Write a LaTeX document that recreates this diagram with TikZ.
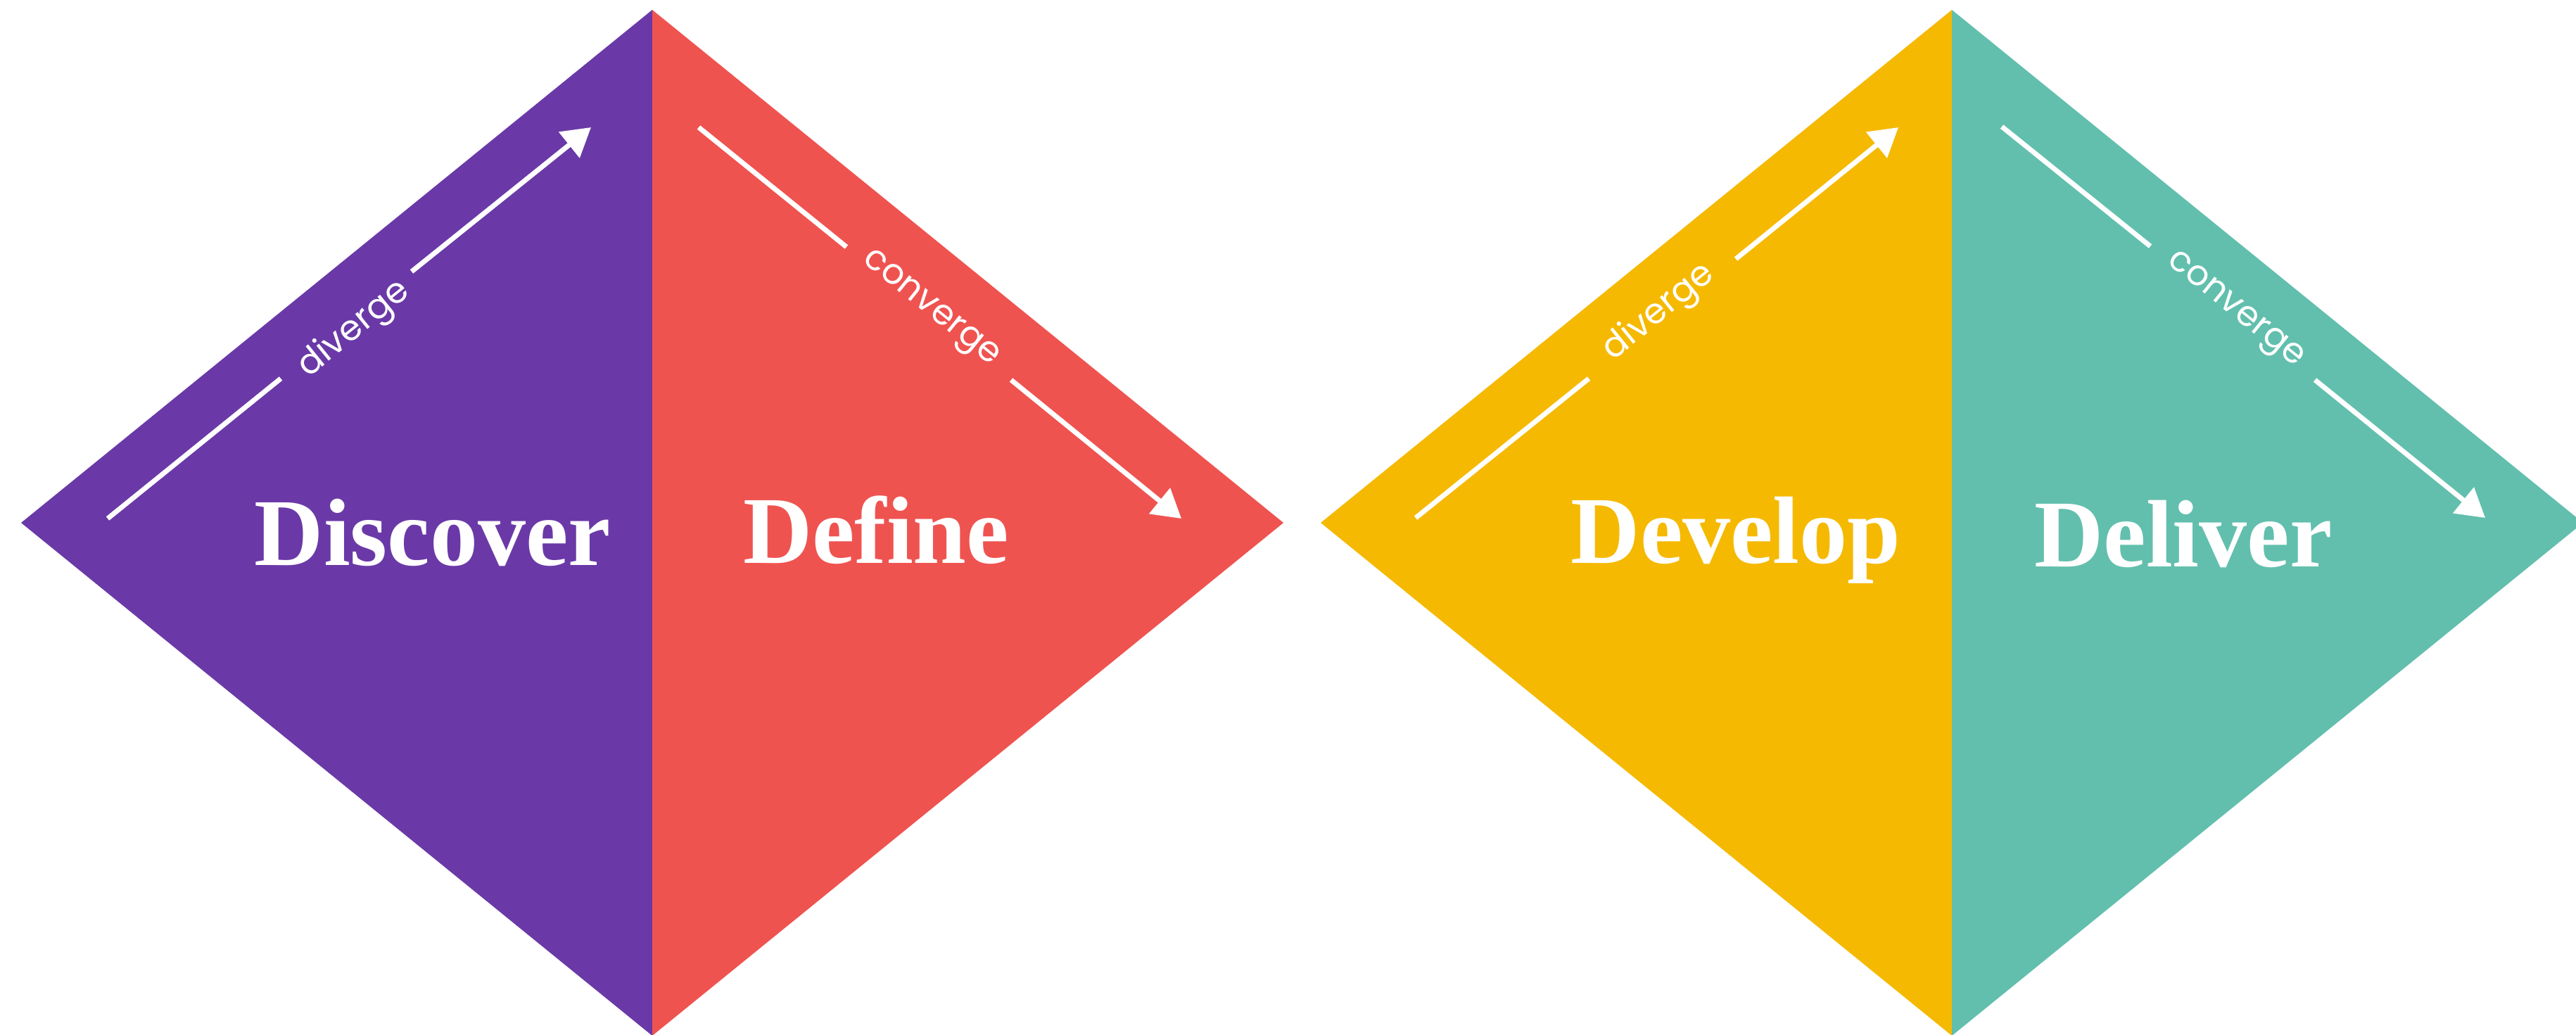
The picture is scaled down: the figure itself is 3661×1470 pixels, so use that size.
\documentclass[tikz,border=0pt]{standalone}
\usepackage{fontspec}
\setmainfont{Liberation Serif}
\newfontfamily\flowfont{Poppins Regular}
\usetikzlibrary{arrows.meta}

\definecolor{discoverpurple}{RGB}{106,57,167}
\definecolor{definered}{RGB}{239,83,80}
\definecolor{developyellow}{RGB}{245,185,2}
\definecolor{deliverteal}{RGB}{98,191,173}

\tikzset{
  phase/.style={anchor=base, inner sep=0pt, text=white,
    font=\fontsize{136}{136}\selectfont\bfseries},
  flow/.style={anchor=mid, inner sep=0pt, text=white,
    font=\fontsize{50}{50}\selectfont\flowfont},
  flowline/.style={draw=white, line width=7pt},
  flowarrow/.style={flowline, -{Triangle[length=40pt,width=46pt]}},
}

\begin{document}
\begin{tikzpicture}[x=1pt, y=-1pt]
  \useasboundingbox (0,0) rectangle (3661,1470);

  % first diamond: Discover | Define
  \coordinate (L1) at (30,743);
  \coordinate (T1) at (927,14);
  \coordinate (B1) at (927,1472);
  \coordinate (R1) at (1824,743);
  \fill[discoverpurple] (L1) -- (T1) -- (B1) -- cycle;
  \fill[definered] (T1) -- (R1) -- (B1) -- cycle;

  % second diamond: Develop | Deliver
  \coordinate (L2) at (1877,743);
  \coordinate (T2) at (2774,14);
  \coordinate (B2) at (2774,1472);
  \coordinate (R2) at (3671,743);
  \fill[developyellow] (L2) -- (T2) -- (B2) -- cycle;
  \fill[deliverteal] (T2) -- (R2) -- (B2) -- cycle;

  % diverge / converge arrows, first diamond
  \coordinate (dvA1) at (153,737);
  \coordinate (dvB1) at (399,538);
  \coordinate (dvC1) at (585,386);
  \coordinate (dvD1) at (840,181);
  \draw[flowline] (dvA1) -- (dvB1);
  \draw[flowarrow] (dvC1) -- (dvD1);
  \node[flow, rotate=39] (dvtext1) at (510,476) {diverge};

  \coordinate (cvA1) at (993,181);
  \coordinate (cvB1) at (1203,351);
  \coordinate (cvC1) at (1437,540);
  \coordinate (cvD1) at (1679,737);
  \draw[flowline] (cvA1) -- (cvB1);
  \draw[flowarrow] (cvC1) -- (cvD1);
  \node[flow, rotate=-39] (cvtext1) at (1318,444) {converge};

  % diverge / converge arrows, second diamond
  \coordinate (dvA2) at (2012,736);
  \coordinate (dvB2) at (2258,538);
  \coordinate (dvC2) at (2467,368);
  \coordinate (dvD2) at (2698,181);
  \draw[flowline] (dvA2) -- (dvB2);
  \draw[flowarrow] (dvC2) -- (dvD2);
  \node[flow, rotate=39] (dvtext2) at (2364,452) {diverge};

  \coordinate (cvA2) at (2845,180);
  \coordinate (cvB2) at (3056,350);
  \coordinate (cvC2) at (3290,540);
  \coordinate (cvD2) at (3532,736);
  \draw[flowline] (cvA2) -- (cvB2);
  \draw[flowarrow] (cvC2) -- (cvD2);
  \node[flow, rotate=-39] (cvtext2) at (3172,446) {converge};

  % phase names
  \node[phase] (discover) at (615,803) {Discover};
  \node[phase] (define) at (1245,800) {Define};
  \node[phase] (develop) at (2467,800) {Develop};
  \node[phase] (deliver) at (3103,805) {Deliver};
\end{tikzpicture}
\end{document}
